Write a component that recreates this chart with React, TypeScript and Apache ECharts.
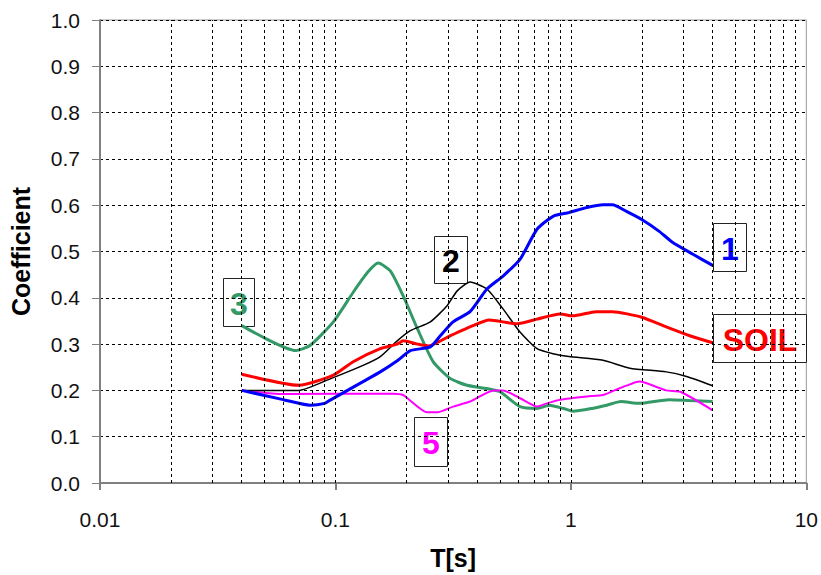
import React, { useEffect, useRef } from "react";
import * as echarts from "echarts";

// ---- data ----
const s1T = [0.04, 0.06, 0.078, 0.09, 0.095, 0.131, 0.155, 0.183, 0.208, 0.253, 0.279, 0.316, 0.373, 0.44, 0.515, 0.608, 0.718, 0.84, 0.98, 1.17, 1.37, 1.5, 1.73, 2.0, 2.38, 2.7, 3.3, 4.0];
const s1V = [0.2, 0.18, 0.168, 0.172, 0.179, 0.219, 0.24, 0.264, 0.286, 0.294, 0.318, 0.348, 0.37, 0.419, 0.447, 0.483, 0.548, 0.576, 0.584, 0.595, 0.601, 0.601, 0.586, 0.569, 0.543, 0.52, 0.494, 0.47];

const s2T = [0.04, 0.07, 0.095, 0.131, 0.155, 0.183, 0.208, 0.253, 0.298, 0.329, 0.373, 0.44, 0.515, 0.608, 0.718, 0.84, 0.98, 1.37, 1.78, 2.54, 3.1, 4.0];
const s2V = [0.2, 0.2, 0.225, 0.254, 0.273, 0.307, 0.329, 0.348, 0.383, 0.415, 0.434, 0.419, 0.376, 0.326, 0.29, 0.279, 0.273, 0.265, 0.248, 0.24, 0.23, 0.21];

const soilT = [0.04, 0.07, 0.098, 0.119, 0.155, 0.183, 0.194, 0.223, 0.248, 0.307, 0.384, 0.45, 0.59, 0.718, 0.9, 1.02, 1.28, 1.5, 2.0, 2.54, 3.2, 4.0];
const soilV = [0.235, 0.211, 0.233, 0.262, 0.29, 0.3, 0.307, 0.3, 0.296, 0.318, 0.34, 0.352, 0.344, 0.354, 0.365, 0.361, 0.37, 0.37, 0.358, 0.337, 0.318, 0.303];

const s3T = [0.04, 0.068, 0.078, 0.098, 0.119, 0.137, 0.152, 0.171, 0.194, 0.223, 0.26, 0.307, 0.362, 0.44, 0.5, 0.608, 0.718, 0.81, 0.93, 1.02, 1.23, 1.42, 1.63, 1.95, 2.62, 3.2, 4.0];
const s3V = [0.34, 0.286, 0.297, 0.348, 0.412, 0.455, 0.475, 0.458, 0.404, 0.333, 0.262, 0.226, 0.211, 0.204, 0.197, 0.165, 0.161, 0.168, 0.161, 0.155, 0.161, 0.168, 0.176, 0.172, 0.18, 0.178, 0.176];

const s5T = [0.04, 0.06, 0.176, 0.194, 0.245, 0.273, 0.316, 0.373, 0.47, 0.515, 0.608, 0.718, 0.79, 0.9, 1.17, 1.37, 1.6, 1.78, 1.95, 2.54, 2.92, 4.0];
const s5V = [0.2, 0.192, 0.193, 0.19, 0.153, 0.153, 0.165, 0.176, 0.2, 0.2, 0.183, 0.165, 0.172, 0.18, 0.187, 0.19, 0.204, 0.213, 0.219, 0.2, 0.197, 0.157];

const xGridValues = [
  0.02, 0.03, 0.04, 0.05, 0.06, 0.07, 0.08, 0.09, 0.1,
  0.2, 0.3, 0.4, 0.5, 0.6, 0.7, 0.8, 0.9, 1,
  2, 3, 4, 5, 6, 7, 8, 9,
];

const FONT = 'Arial, "Liberation Sans", sans-serif';

const pair = (t: number[], v: number[]) => t.map((x, i) => [x, v[i]]);

const labelBox = (
  x: number, y: number, w: number, h: number, text: string, color: string
) => ({
  type: "group",
  x, y,
  children: [
    { type: "rect", shape: { x: 0.5, y: 0.5, width: w, height: h }, style: { fill: "#fff", stroke: "#222", lineWidth: 1 } },
    {
      type: "text",
      x: w / 2 + 0.5, y: h / 2 + 1.5,
      style: { text, fill: color, font: `bold 32px ${FONT}`, align: "center", verticalAlign: "middle" },
    },
  ],
});

export default function App() {
  const ref = useRef<HTMLDivElement>(null);
  useEffect(() => {
    if (!ref.current) return;
    const chart = echarts.init(ref.current, null, { renderer: "svg" });
    const dashed = { color: "#000", width: 1, type: [3, 3] as any };
    chart.setOption({
      animation: false,
      backgroundColor: "#fff",
      grid: { left: 99, right: 14, top: 20, bottom: 90, show: true, borderColor: "#999", borderWidth: 1, backgroundColor: "transparent" },
      xAxis: {
        type: "log",
        logBase: 10,
        min: 0.01,
        max: 10,
        name: "T[s]",
        nameLocation: "middle",
        nameGap: 62,
        nameTextStyle: { fontFamily: FONT, fontWeight: "bold", fontSize: 25, color: "#000" },
        axisLine: { show: true, lineStyle: { color: "#808080", width: 2 } },
        axisTick: { show: true, length: 7, lineStyle: { color: "#808080", width: 2 } },
        axisLabel: { fontFamily: FONT, fontSize: 21, color: "#111", margin: 26, formatter: (v: number) => String(v) },
        splitLine: { show: false },
        minorTick: { show: false },
        minorSplitLine: { show: false },
      },
      yAxis: {
        type: "value",
        min: 0,
        max: 1,
        interval: 0.1,
        name: "Coefficient",
        nameLocation: "middle",
        nameRotate: 90,
        nameGap: 67,
        nameTextStyle: { fontFamily: FONT, fontWeight: "bold", fontSize: 25, color: "#000" },
        axisLine: { show: true, lineStyle: { color: "#808080", width: 2 } },
        axisTick: { show: true, length: 8, lineStyle: { color: "#808080", width: 1 } },
        axisLabel: { fontFamily: FONT, fontSize: 21, color: "#111", margin: 20, formatter: (v: number) => v.toFixed(1) },
        splitLine: { show: true, lineStyle: dashed },
      },
      series: [
        {
          type: "line",
          name: "grid",
          data: [],
          silent: true,
          markLine: {
            silent: true,
            symbol: "none",
            label: { show: false },
            lineStyle: dashed,
            data: xGridValues.map((v) => ({ xAxis: v })),
          },
        },
        { type: "line", name: "3", data: pair(s3T, s3V), showSymbol: false, smooth: 0.2, lineStyle: { color: "#339966", width: 3 }, itemStyle: { color: "#339966" } },
        { type: "line", name: "5", data: pair(s5T, s5V), showSymbol: false, smooth: 0.2, lineStyle: { color: "#FF00FF", width: 2 }, itemStyle: { color: "#FF00FF" } },
        { type: "line", name: "2", data: pair(s2T, s2V), showSymbol: false, smooth: 0.2, lineStyle: { color: "#000", width: 1.5 }, itemStyle: { color: "#000" } },
        { type: "line", name: "SOIL", data: pair(soilT, soilV), showSymbol: false, smooth: 0.2, lineStyle: { color: "#FF0000", width: 3 }, itemStyle: { color: "#FF0000" } },
        { type: "line", name: "1", data: pair(s1T, s1V), showSymbol: false, smooth: 0.2, lineStyle: { color: "#0000FF", width: 3 }, itemStyle: { color: "#0000FF" } },
      ],
      graphic: [
        labelBox(713, 223, 33, 48, "1", "#0000FF"),
        labelBox(713, 314, 93, 48, "SOIL", "#FF0000"),
        labelBox(434, 236, 33, 47, "2", "#000"),
        labelBox(223, 278, 31, 48, "3", "#339966"),
        labelBox(414, 417, 33, 49, "5", "#FF00FF"),
      ],
    });
    return () => chart.dispose();
  }, []);
  return <div ref={ref} style={{ position: "absolute", left: 0, top: 0, width: 821, height: 575 }} />;
}
